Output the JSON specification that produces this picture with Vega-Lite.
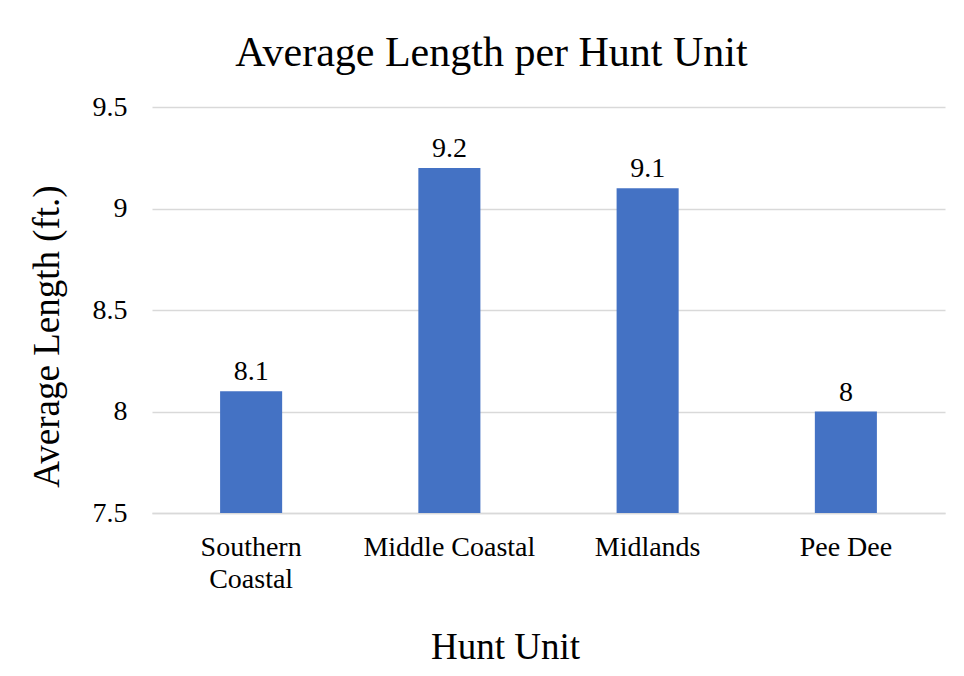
{
  "$schema": "https://vega.github.io/schema/vega-lite/v6.json",
  "width": 793,
  "height": 406,
  "autosize": {"type": "none"},
  "padding": {"left": 152, "top": 107, "right": 19, "bottom": 163},
  "background": "white",
  "config": {
    "font": "Liberation Serif",
    "view": {"stroke": null}
  },
  "title": {
    "text": "Average Length per Hunt Unit",
    "font": "Liberation Serif",
    "fontSize": 42,
    "fontWeight": "normal",
    "color": "#000000",
    "anchor": "middle",
    "baseline": "alphabetic",
    "offset": -15,
    "dx": -57
  },
  "data": {
    "values": [
      {"unit": "Southern Coastal", "length": 8.1},
      {"unit": "Middle Coastal", "length": 9.2},
      {"unit": "Midlands", "length": 9.1},
      {"unit": "Pee Dee", "length": 8.0}
    ]
  },
  "encoding": {
    "x": {
      "field": "unit",
      "type": "nominal",
      "sort": null,
      "scale": {"paddingInner": 0.687, "paddingOuter": 0.3435},
      "axis": {
        "title": "Hunt Unit",
        "titleFont": "Liberation Serif",
        "titleFontSize": 37,
        "titleFontWeight": "normal",
        "titleColor": "#000000",
        "titleBaseline": "alphabetic",
        "titleAlign": "center",
        "titleX": 353,
        "titleY": 145,
        "labelAngle": 0,
        "labelFont": "Liberation Serif",
        "labelFontSize": 28,
        "labelColor": "#000000",
        "labelPadding": 20,
        "labelLineHeight": 32,
        "labelExpr": "datum.label == 'Southern Coastal' ? ['Southern', 'Coastal'] : datum.label",
        "ticks": false,
        "domain": true,
        "domainColor": "#d9d9d9",
        "domainWidth": 1.5
      }
    }
  },
  "layer": [
    {
      "mark": {"type": "bar", "color": "#4472C4"},
      "encoding": {
        "y": {
          "field": "length",
          "type": "quantitative",
          "scale": {"domain": [7.5, 9.5], "zero": false, "nice": false},
          "axis": {
            "title": "Average Length (ft.)",
            "titleFont": "Liberation Serif",
            "titleFontSize": 37,
            "titleFontWeight": "normal",
            "titleColor": "#000000",
            "titleBaseline": "alphabetic",
            "titleAngle": -90,
            "titleAlign": "center",
            "titleX": -94,
            "titleY": 229,
            "values": [7.5, 8, 8.5, 9, 9.5],
            "format": ".1~f",
            "labelFont": "Liberation Serif",
            "labelFontSize": 28,
            "labelColor": "#000000",
            "labelPadding": 25,
            "ticks": false,
            "domain": false,
            "grid": true,
            "gridColor": "#d9d9d9",
            "gridWidth": 1.5
          }
        },
        "y2": {"datum": 7.5}
      }
    },
    {
      "mark": {"type": "text", "baseline": "alphabetic", "dy": -11, "fontSize": 28, "font": "Liberation Serif", "color": "#000000"},
      "encoding": {
        "y": {"field": "length", "type": "quantitative"},
        "text": {"field": "length", "type": "quantitative", "format": ".1~f"}
      }
    }
  ]
}
